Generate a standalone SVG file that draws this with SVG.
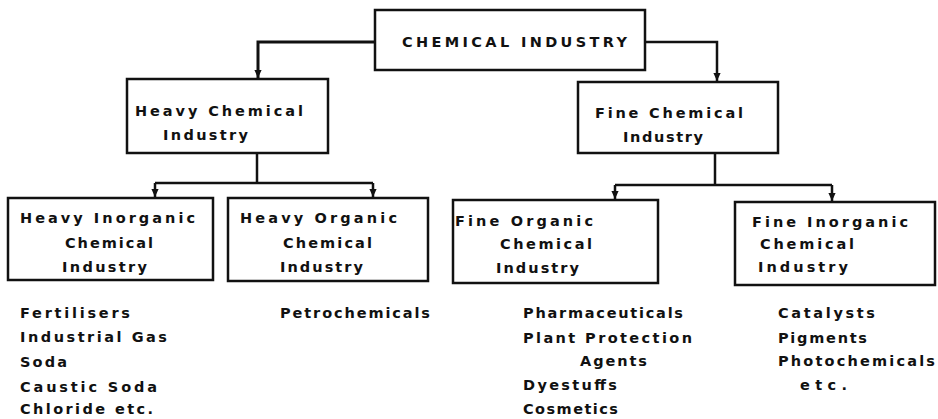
<svg xmlns="http://www.w3.org/2000/svg" width="938" height="419" viewBox="0 0 938 419">
  <defs>
    <marker id="arr" viewBox="0 0 10 10" refX="10" refY="5" markerWidth="8" markerHeight="9" markerUnits="userSpaceOnUse" orient="auto">
      <path d="M0,0.5 L10,5 L0,9.5 z" fill="#111"/>
    </marker>
    <style>
      .box { fill: #fff; stroke: #111; stroke-width: 2.5; }
      .t { font-family: "DejaVu Sans", "Liberation Sans", sans-serif; font-weight: bold; font-size: 14.5px; fill: #111; }
      .conn { fill: none; stroke: #111; stroke-width: 2.5; }
    </style>
  </defs>
  <rect width="938" height="419" fill="#fff"/>

  <g id="connectors">
    <path class="conn" d="M375,42 H258 V78" marker-end="url(#arr)" style="stroke-width:3"/>
    <path class="conn" d="M645,42 H717 V81" marker-end="url(#arr)"/>
    <path class="conn" d="M257,153 V183"/>
    <path class="conn" d="M155,183 H373"/>
    <path class="conn" d="M155,183 V197" marker-end="url(#arr)"/>
    <path class="conn" d="M373,183 V197" marker-end="url(#arr)"/>
    <path class="conn" d="M715,153 V185"/>
    <path class="conn" d="M615,185 H832"/>
    <path class="conn" d="M615,185 V199" marker-end="url(#arr)"/>
    <path class="conn" d="M832,185 V201" marker-end="url(#arr)"/>
  </g>

  <g id="chemical-industry">
    <rect class="box" x="375" y="10" width="270" height="60"/>
    <text class="t" x="402" y="47" textLength="225" lengthAdjust="spacing">CHEMICAL INDUSTRY</text>
  </g>

  <g id="heavy-chemical">
    <rect class="box" x="127" y="79" width="201" height="74"/>
    <text class="t" x="135" y="116" textLength="168" lengthAdjust="spacing">Heavy Chemical</text>
    <text class="t" x="163" y="140" textLength="85" lengthAdjust="spacing">Industry</text>
  </g>

  <g id="fine-chemical">
    <rect class="box" x="578" y="82" width="200" height="71"/>
    <text class="t" x="595" y="118" textLength="148" lengthAdjust="spacing">Fine Chemical</text>
    <text class="t" x="623" y="142" textLength="80" lengthAdjust="spacing">Industry</text>
  </g>

  <g id="heavy-inorganic">
    <rect class="box" x="8" y="198" width="205" height="82"/>
    <text class="t" x="20" y="223" textLength="175" lengthAdjust="spacing">Heavy Inorganic</text>
    <text class="t" x="65" y="248" textLength="88" lengthAdjust="spacing">Chemical</text>
    <text class="t" x="62" y="272" textLength="85" lengthAdjust="spacing">Industry</text>
  </g>

  <g id="heavy-organic">
    <rect class="box" x="228" y="198" width="200" height="83"/>
    <text class="t" x="240" y="223" textLength="157" lengthAdjust="spacing">Heavy Organic</text>
    <text class="t" x="283" y="248" textLength="89" lengthAdjust="spacing">Chemical</text>
    <text class="t" x="280" y="272" textLength="83" lengthAdjust="spacing">Industry</text>
  </g>

  <g id="fine-organic">
    <rect class="box" x="453" y="200" width="205" height="83"/>
    <text class="t" x="455" y="226" textLength="138" lengthAdjust="spacing">Fine Organic</text>
    <text class="t" x="500" y="249" textLength="92" lengthAdjust="spacing">Chemical</text>
    <text class="t" x="496" y="273" textLength="83" lengthAdjust="spacing">Industry</text>
  </g>

  <g id="fine-inorganic">
    <rect class="box" x="735" y="202" width="200" height="83"/>
    <text class="t" x="752" y="227" textLength="156" lengthAdjust="spacing">Fine Inorganic</text>
    <text class="t" x="760" y="249" textLength="94" lengthAdjust="spacing">Chemical</text>
    <text class="t" x="758" y="272" textLength="90" lengthAdjust="spacing">Industry</text>
  </g>

  <g id="heavy-inorganic-products">
    <text class="t" x="20" y="318" textLength="110" lengthAdjust="spacing">Fertilisers</text>
    <text class="t" x="20" y="342" textLength="147" lengthAdjust="spacing">Industrial Gas</text>
    <text class="t" x="20" y="367" textLength="47" lengthAdjust="spacing">Soda</text>
    <text class="t" x="20" y="392" textLength="137" lengthAdjust="spacing">Caustic Soda</text>
    <text class="t" x="20" y="414" textLength="133" lengthAdjust="spacing">Chloride etc.</text>
  </g>

  <g id="heavy-organic-products">
    <text class="t" x="280" y="318" textLength="150" lengthAdjust="spacing">Petrochemicals</text>
  </g>

  <g id="fine-organic-products">
    <text class="t" x="523" y="318" textLength="160" lengthAdjust="spacing">Pharmaceuticals</text>
    <text class="t" x="523" y="343" textLength="169" lengthAdjust="spacing">Plant Protection</text>
    <text class="t" x="580" y="366" textLength="67" lengthAdjust="spacing">Agents</text>
    <text class="t" x="523" y="390" textLength="94" lengthAdjust="spacing">Dyestuffs</text>
    <text class="t" x="523" y="414" textLength="95" lengthAdjust="spacing">Cosmetics</text>
  </g>

  <g id="fine-inorganic-products">
    <text class="t" x="778" y="318" textLength="97" lengthAdjust="spacing">Catalysts</text>
    <text class="t" x="778" y="343" textLength="89" lengthAdjust="spacing">Pigments</text>
    <text class="t" x="778" y="366" textLength="157" lengthAdjust="spacing">Photochemicals</text>
    <text class="t" x="800" y="390" textLength="47" lengthAdjust="spacing">etc.</text>
  </g>
</svg>
